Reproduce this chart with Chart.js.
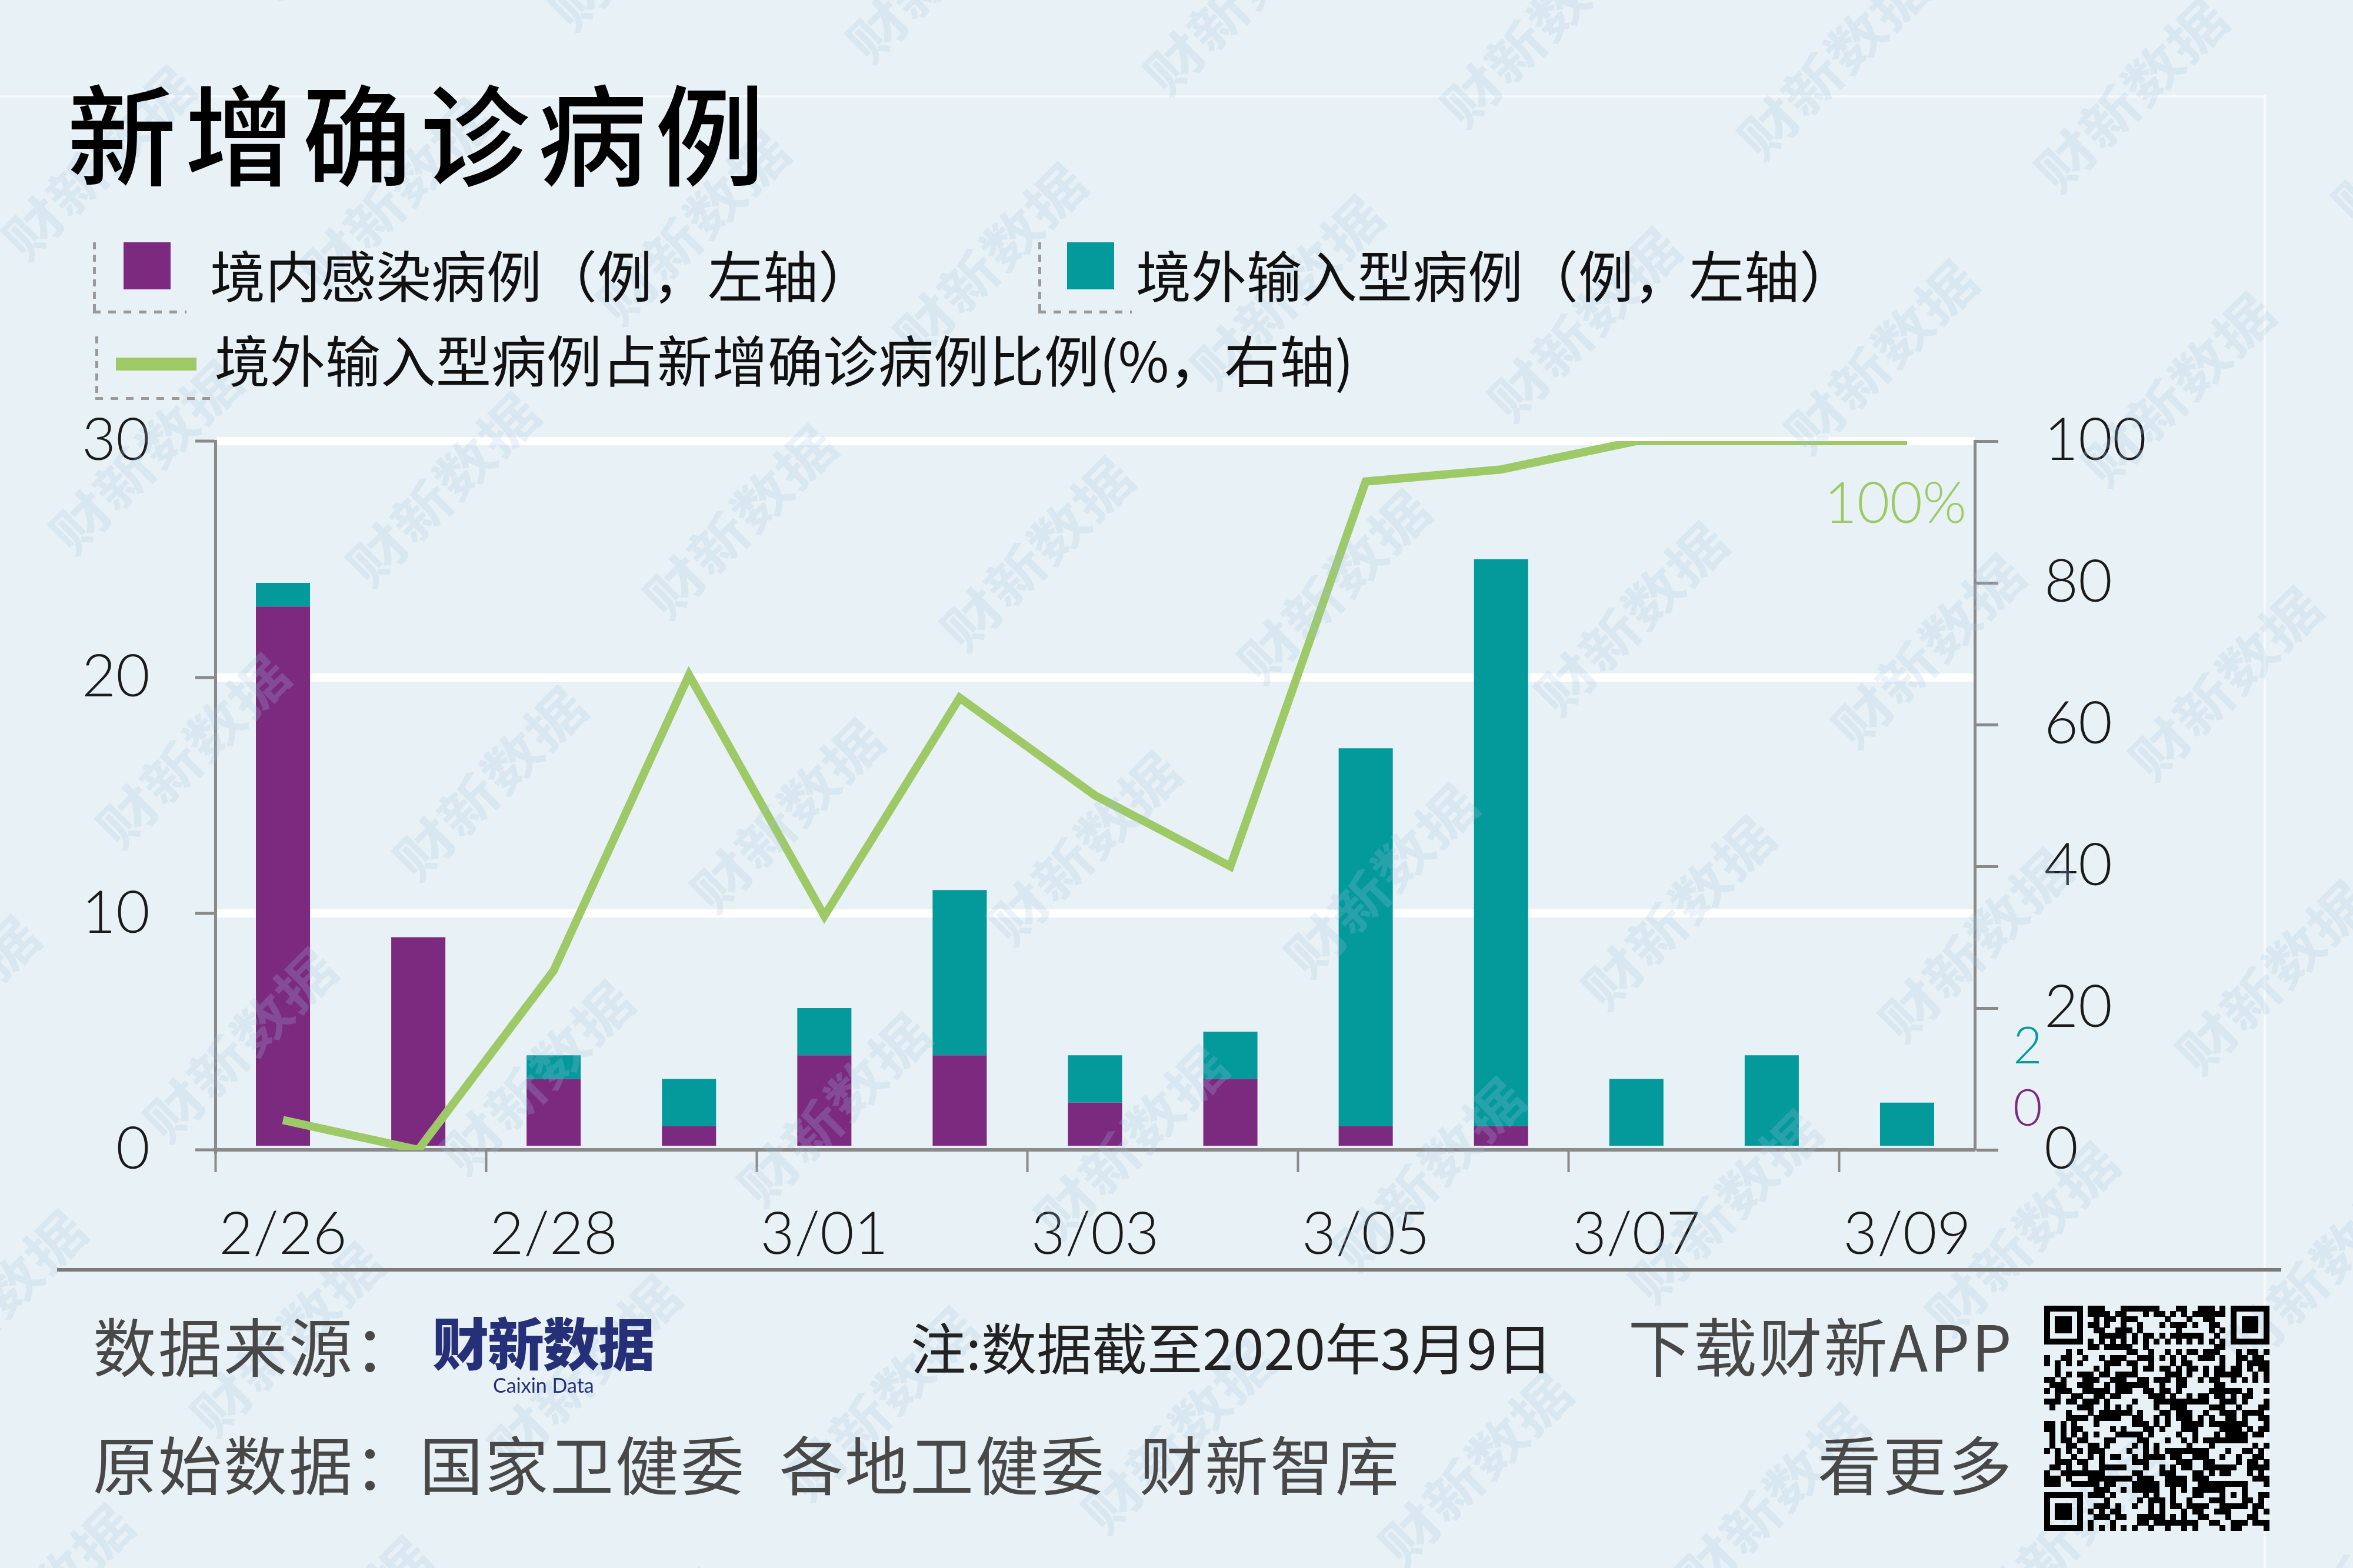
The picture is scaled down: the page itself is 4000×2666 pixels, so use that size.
<!DOCTYPE html>
<html lang="zh-CN">
<head>
<meta charset="utf-8">
<title>新增确诊病例</title>
<script src="https://cdn.jsdelivr.net/npm/chart.js@4.4.1/dist/chart.umd.min.js"></script>
<style>
  html, body { margin: 0; padding: 0; background: #e8f1f5; }
  #page {
    position: relative; width: 4000px; height: 2666px; overflow: hidden;
    background: #e8f1f5; font-family: "Noto Sans CJK SC", "Noto Sans", sans-serif;
  }
  #chart { position: absolute; left: 0; top: 0; }
  #qr { position: absolute; left: 3475px; top: 2220px; }
  .txt { position: absolute; white-space: nowrap; line-height: 1; }
  .title { left: 114px; top: 128px; font-size: 186px; font-weight: 500; letter-spacing: 14px; color: #000; }
  .leg { font-size: 94px; color: #111; }
  .bracket { position: absolute; }
  .bracket .v { position: absolute; left: 0; top: 0; width: 5px; bottom: 0;
    background: repeating-linear-gradient(to bottom, #9a9a9a 0 12px, transparent 12px 21px); }
  .bracket .h { position: absolute; left: 0; right: 0; bottom: 0; height: 5px;
    background: repeating-linear-gradient(to right, #9a9a9a 0 13px, transparent 13px 26px); }
  .swatch { position: absolute; }
  .foot { font-size: 108px; color: #484848; letter-spacing: 3px; }
  .note { font-size: 94px; color: #222; }
  .rule { position: absolute; left: 97px; width: 3781px; top: 2156px; height: 6px; background: #7a7a7a; }
  .logo { left: 735px; top: 2232px; font-size: 96px; font-weight: 900; color: #263079; letter-spacing: -2px; }
  .logo-en { left: 838px; top: 2338px; font-size: 34px; color: #263079; font-family: Lato, "Noto Sans", sans-serif; }
</style>
</head>
<body>
<div id="page">
  <canvas id="chart" width="4000" height="2666"></canvas>

  <div class="txt title">新增确诊病例</div>
  <div id="legend"></div>

  <div class="rule"></div>
  <div class="txt foot" style="left:158px; top:2231px;">数据来源：</div>
  <div class="txt logo">财新数据</div>
  <div class="txt logo-en">Caixin Data</div>
  <div class="txt note" style="left:1548px; top:2241px;">注:数据截至2020年3月9日</div>
  <div class="txt foot" style="right:577px; top:2231px;">下载财新APP</div>
  <div class="txt foot" style="left:158px; top:2432px;">原始数据：国家卫健委&ensp;各地卫健委&ensp;财新智库</div>
  <div class="txt foot" style="right:577px; top:2432px;">看更多</div>
  <canvas id="qr" width="383" height="383"></canvas>
</div>

<script>
// data
const dates = ["2/26", "2/27", "2/28", "2/29", "3/01", "3/02", "3/03", "3/04", "3/05", "3/06", "3/07", "3/08", "3/09"];
const shownDates = ["2/26", "2/28", "3/01", "3/03", "3/05", "3/07", "3/09"];
const localCases = [23, 9, 3, 1, 4, 4, 2, 3, 1, 1, 0, 0, 0];
const importedCases = [1, 0, 1, 2, 2, 7, 2, 2, 16, 24, 3, 4, 2];
const importedShare = [4.2, 0, 25.3, 67, 33, 63.8, 50, 40, 94.3, 96, 100, 100, 100];
const leftTicks = [0, 10, 20, 30];
const rightTicks = [0, 20, 40, 60, 80, 100];
const seriesNames = [
  "境内感染病例（例，左轴）",
  "境外输入型病例（例，左轴）",
  "境外输入型病例占新增确诊病例比例(%，右轴)",
];

const PURPLE = "#7b2a80";
const TEAL = "#04999a";
const GREEN = "#9dc967";
const AXIS = "#8a8a8a";
const NUM_FONT = "Lato, 'Noto Sans', sans-serif";

// legend (html)
function buildLegend() {
  const items = [
    { bx: 158, by: 412, bw: 159, bh: 121, sw: { left: 210, top: 412, width: 80, height: 80, color: PURPLE }, tx: 357, ty: 418 },
    { bx: 1765, by: 412, bw: 159, bh: 121, sw: { left: 1814, top: 412, width: 80, height: 80, color: TEAL }, tx: 1931, ty: 418 },
    { bx: 162, by: 572, bw: 196, bh: 108, sw: { left: 197, top: 608, width: 137, height: 22, color: GREEN }, tx: 365, ty: 562 },
  ];
  const holder = document.querySelector("#legend");
  items.forEach((it, i) => {
    const br = document.createElement("div");
    br.className = "bracket";
    br.style.cssText = `left:${it.bx}px;top:${it.by}px;width:${it.bw}px;height:${it.bh}px;`;
    br.innerHTML = '<div class="v"></div><div class="h"></div>';
    holder.appendChild(br);

    const sw = document.createElement("div");
    sw.className = "swatch";
    sw.style.cssText = `left:${it.sw.left}px;top:${it.sw.top}px;width:${it.sw.width}px;height:${it.sw.height}px;background:${it.sw.color};`;
    holder.appendChild(sw);

    const t = document.createElement("div");
    t.className = "txt leg";
    t.style.left = it.tx + "px";
    t.style.top = it.ty + "px";
    t.textContent = seriesNames[i];
    holder.appendChild(t);
  });
}
buildLegend();

// faint background decoration + end-of-series labels
const decorPlugin = {
  id: "decor",
  beforeDraw(chart) {
    const ctx = chart.ctx;
    ctx.save();
    ctx.fillStyle = "rgba(255,255,255,0.55)";
    ctx.fillRect(0, 162, 3850, 4);
    ctx.fillRect(3848, 162, 4, 2504);
    ctx.restore();
  },
  afterDatasetsDraw(chart) {
    const { ctx, scales } = chart;
    const last = dates.length - 1;
    const axisX = scales.y1.left;
    const base = scales.y.getPixelForValue(0);
    ctx.save();
    ctx.textBaseline = "middle";
    ctx.font = `300 96px ${NUM_FONT}`;
    ctx.fillStyle = GREEN;
    ctx.textAlign = "right";
    ctx.fillText(importedShare[last] + "%", axisX - 14, scales.y1.getPixelForValue(importedShare[last]) + 108);
    ctx.font = `300 86px ${NUM_FONT}`;
    ctx.textAlign = "center";
    ctx.fillStyle = TEAL;
    ctx.fillText(String(importedCases[last]), axisX + 90, base - 175);
    ctx.fillStyle = PURPLE;
    ctx.fillText(String(localCases[last]), axisX + 90, base - 69);
    ctx.restore();
  },
  afterDraw(chart) {
    // watermark lattice
    const ctx = chart.ctx;
    ctx.save();
    ctx.font = "bold 104px 'Noto Sans CJK SC'";
    ctx.fillStyle = "rgba(165,198,226,0.22)";
    ctx.textAlign = "center";
    ctx.textBaseline = "middle";
    for (let i = -10; i <= 3; i++) {
      for (let j = -3; j <= 4; j++) {
        const x = 3783 + i * 505 + j * 80;
        const y = 1162 + i * 55 + j * 500;
        if (x < -250 || x > 4250 || y < -250 || y > 2900) continue;
        ctx.save();
        ctx.translate(x, y);
        ctx.rotate(-Math.PI / 4);
        ctx.scale(1, 0.85);
        ctx.fillText("财新数据", 0, 0);
        ctx.restore();
      }
    }
    ctx.restore();
  },
};

const chartCtx = document.querySelector("#chart");

const caseChart = new Chart(chartCtx, {
  type: "bar",
  data: {
    labels: dates,
    datasets: [
      {
        label: seriesNames[0],
        data: localCases,
        backgroundColor: PURPLE,
        yAxisID: "y",
        stack: "cases",
        order: 1,
      },
      {
        label: seriesNames[1],
        data: importedCases,
        backgroundColor: TEAL,
        yAxisID: "y",
        stack: "cases",
        order: 1,
      },
      {
        type: "line",
        label: seriesNames[2],
        data: importedShare,
        borderColor: GREEN,
        borderWidth: 14,
        borderJoinStyle: "miter",
        pointRadius: 0,
        tension: 0,
        yAxisID: "y1",
        order: 0,
      },
    ],
  },
  options: {
    responsive: false,
    devicePixelRatio: 1,
    animation: false,
    categoryPercentage: 1,
    barPercentage: 0.4,
    layout: { padding: { left: 46, right: 243, top: 750, bottom: 461 } },
    plugins: { legend: { display: false }, tooltip: { enabled: false } },
    scales: {
      x: {
        stacked: true,
        offset: true,
        grid: {
          offset: true,
          drawOnChartArea: false,
          tickLength: 38,
          tickWidth: 4,
          tickColor: (c) => (c.tick && shownDates.includes(c.tick.label) ? AXIS : "rgba(0,0,0,0)"),
        },
        border: { color: AXIS, width: 6 },
        ticks: {
          autoSkip: false,
          maxRotation: 0,
          padding: 47,
          color: "#1a1a1a",
          font: { family: NUM_FONT, size: 100, weight: "300" },
          callback: (v, i) => (shownDates.includes(dates[i]) ? dates[i] : ""),
        },
        afterFit: (s) => { s.height = 250; },
      },
      y: {
        position: "left",
        stacked: true,
        min: 0,
        max: 30,
        afterBuildTicks: (s) => { s.ticks = leftTicks.map((v) => ({ value: v })); },
        grid: {
          color: (c) => (c.tick && c.tick.value === 0 ? "rgba(0,0,0,0)" : "#ffffff"),
          lineWidth: 14,
          tickColor: AXIS,
          tickWidth: 5,
          tickLength: 34,
        },
        border: { color: AXIS, width: 5 },
        ticks: {
          padding: 77,
          color: "#1a1a1a",
          font: { family: NUM_FONT, size: 100, weight: "300" },
        },
        afterFit: (s) => { s.width = 320; },
      },
      y1: {
        position: "right",
        min: 0,
        max: 100,
        afterBuildTicks: (s) => { s.ticks = rightTicks.map((v) => ({ value: v })); },
        grid: {
          drawOnChartArea: false,
          tickColor: AXIS,
          tickWidth: 5,
          tickLength: 40,
        },
        border: { color: AXIS, width: 5 },
        ticks: {
          padding: 78,
          color: "#1a1a1a",
          font: { family: NUM_FONT, size: 100, weight: "300" },
        },
        afterFit: (s) => { s.width = 400; },
      },
    },
  },
  plugins: [decorPlugin],
});

// QR-like block in the footer (decorative)
function drawQr() {
  const c = document.querySelector("#qr");
  const ctx = c.getContext("2d");
  const n = 41;
  const m = c.width / n;
  const dark = (x, y) => {
    let h = (x * 374761393 + y * 668265263) >>> 0;
    h = Math.imul(h ^ (h >>> 13), 1274126177) >>> 0;
    return ((h >>> 16) & 3) < 2;
  };
  const finder = (fx, fy, x, y) => {
    const dx = x - fx, dy = y - fy;
    if (dx < -1 || dy < -1 || dx > 7 || dy > 7) return null;
    if (dx < 0 || dy < 0 || dx > 6 || dy > 6) return false;
    const r = Math.max(Math.abs(dx - 3), Math.abs(dy - 3));
    return r !== 2;
  };
  ctx.fillStyle = "#000";
  for (let y = 0; y < n; y++) {
    for (let x = 0; x < n; x++) {
      let v = finder(0, 0, x, y);
      if (v === null) v = finder(n - 7, 0, x, y);
      if (v === null) v = finder(0, n - 7, x, y);
      if (v === null) {
        const ax = x - 34, ay = y - 34;
        if (ax >= -2 && ax <= 2 && ay >= -2 && ay <= 2) {
          v = Math.max(Math.abs(ax), Math.abs(ay)) !== 1;
        } else if (y === 6) v = x % 2 === 0;
        else if (x === 6) v = y % 2 === 0;
        else v = dark(x, y);
      }
      if (v) ctx.fillRect(Math.floor(x * m), Math.floor(y * m), Math.ceil(m), Math.ceil(m));
    }
  }
}
drawQr();
</script>
</body>
</html>
